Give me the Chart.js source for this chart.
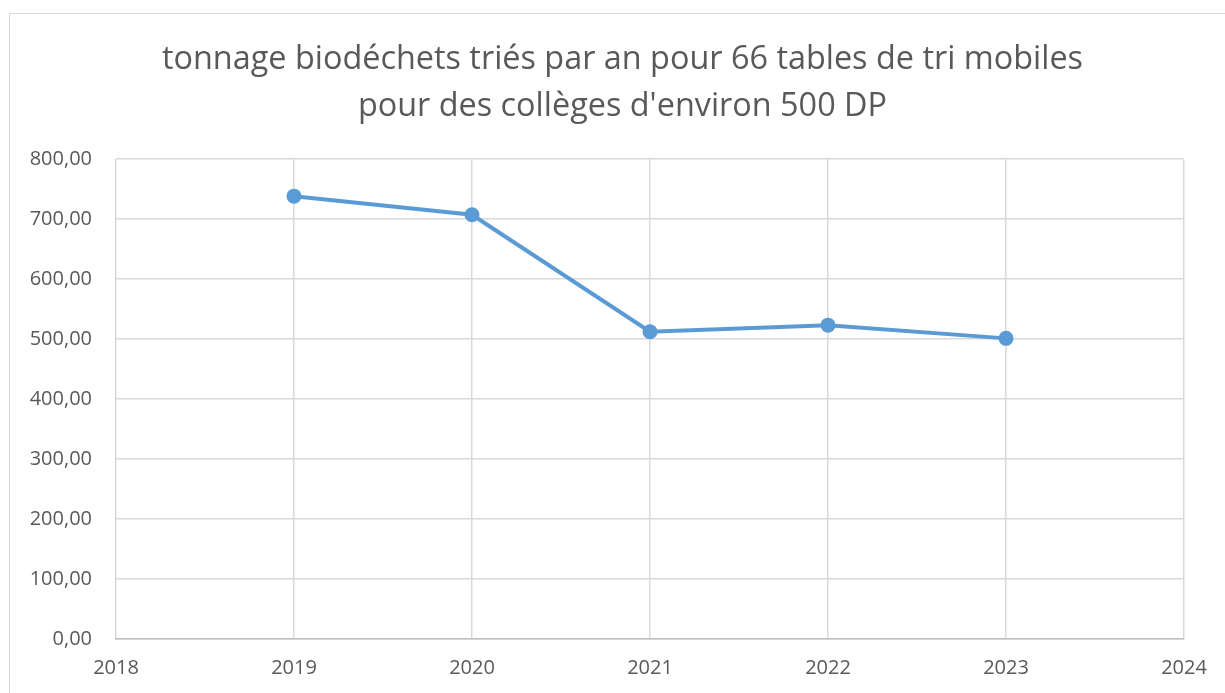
<!DOCTYPE html>
<html>
<head>
<meta charset="utf-8">
<script src="https://cdn.jsdelivr.net/npm/chart.js@4"></script>
<style>
  html, body { margin: 0; padding: 0; background: #ffffff; overflow: hidden; }
  #wrap { position: relative; width: 1225px; height: 693px; }
  #frame { position: absolute; left: 9px; top: 13px; width: 1300px; height: 800px; border: 1.5px solid #d9d9d9; box-sizing: border-box; }
  #c { position: absolute; left: 0; top: 0; }
</style>
</head>
<body>
<div id="wrap">
  <div id="frame"></div>
  <canvas id="c" width="1225" height="693"></canvas>
</div>
<script>
const titleLines = ["tonnage biodéchets triés par an pour 66 tables de tri mobiles", "pour des collèges d'environ 500 DP"];
const years = [2019, 2020, 2021, 2022, 2023];
const tonnage = [738, 707, 512, 523, 501];
const xMin = 2018, xMax = 2024;
const yMin = 0, yMax = 800, yStep = 100;

const textColor = '#595959';
const gridColor = '#d9d9d9';
const fontFamily = "'Open Sans', 'Noto Sans', sans-serif";

const points = years.map((y, i) => ({ x: y, y: tonnage[i] }));

new Chart(document.getElementById('c'), {
  type: 'line',
  data: {
    datasets: [{
      label: 'tonnage',
      data: points,
      borderColor: '#5b9bd5',
      backgroundColor: '#5b9bd5',
      borderWidth: 4,
      pointRadius: 7.5,
      pointHoverRadius: 7.5,
      pointBorderWidth: 0,
      tension: 0,
      fill: false
    }]
  },
  options: {
    responsive: false,
    animation: false,
    layout: { padding: { left: 20, right: 0, top: 0, bottom: 0 } },
    plugins: {
      legend: { display: false },
      tooltip: { enabled: false },
      title: {
        display: true,
        text: titleLines,
        color: textColor,
        font: { family: fontFamily, size: 32.4, weight: 'normal', lineHeight: 1.45 },
        padding: { top: 36, bottom: 29 }
      }
    },
    scales: {
      x: {
        type: 'linear',
        min: xMin,
        max: xMax,
        afterFit: (s) => { s.height = 54; },
        ticks: {
          stepSize: 1,
          color: textColor,
          font: { family: fontFamily, size: 20 },
          padding: 17,
          maxRotation: 0,
          callback: (v) => String(v)
        },
        grid: { color: gridColor, lineWidth: 1.5, drawTicks: false },
        border: { color: '#bfbfbf', width: 1.5 }
      },
      y: {
        min: yMin,
        max: yMax,
        afterFit: (s) => { s.width = 96; },
        ticks: {
          stepSize: yStep,
          color: textColor,
          font: { family: fontFamily, size: 20 },
          padding: 24,
          callback: (v) => v.toFixed(2).replace('.', ',')
        },
        grid: { color: gridColor, lineWidth: 1.5, drawTicks: false },
        border: { display: false }
      },
      spacer: {
        type: 'linear',
        position: 'right',
        afterFit: (s) => { s.width = 41; },
        ticks: { display: false },
        grid: { display: false, drawTicks: false },
        border: { display: false }
      }
    }
  }
});
</script>
</body>
</html>
